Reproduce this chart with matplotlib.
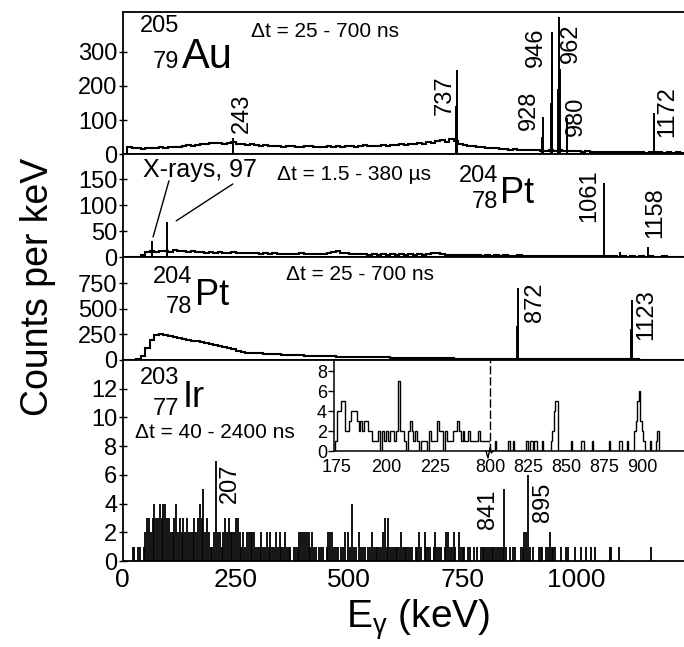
import numpy as np
import matplotlib
matplotlib.use("Agg")
import matplotlib.pyplot as plt

plt.rcParams['font.family'] = ['Liberation Sans', 'DejaVu Sans']
plt.rcParams['mathtext.fontset'] = 'custom'
plt.rcParams['mathtext.rm'] = 'Liberation Sans'
plt.rcParams['mathtext.it'] = 'Liberation Sans:italic'

# ---------------- data ----------------
BIN = 10  # keV per background bin, panels 1-3

# 205Au, dt = 25-700 ns : background, 10 keV bins from 0 keV
au_bg = [0, 20, 18, 17, 16, 19, 18, 17, 20, 19,
         21, 22, 20, 24, 26, 25, 28, 31, 30, 33,
         32, 34, 31, 33, 36, 30, 31, 28, 29, 27,
         25, 26, 24, 23, 25, 22, 23, 24, 22, 21,
         23, 24, 21, 22, 20, 23, 22, 24, 21, 23,
         25, 22, 24, 26, 23, 25, 24, 27, 25, 26,
         28, 31, 27, 30, 29, 33, 31, 35, 33, 38,
         41, 36, 44, 40, 30, 27, 25, 23, 22, 20,
         19, 18, 17, 16, 15, 14, 15, 13, 14, 12,
         13, 12, 11, 10, 12, 11, 12, 10, 9, 10,
         9, 8, 9, 8, 7, 8, 7, 8, 7, 6,
         7, 6, 7, 6, 6, 5, 6, 7, 6, 5,
         6, 5, 6, 5, 5]
au_peak_e = [243, 735, 737, 926, 928, 944, 946, 948, 960, 962, 964, 980, 1172]
au_peak_h = [48, 140, 245, 50, 110, 150, 358, 260, 190, 402, 250, 106, 122]
au_labels = ['243', '737', '928', '946', '962', '980', '1172']

# 204Pt, dt = 1.5-380 us
ptus_bg = [0, 0, 0, 0, 4, 10, 12, 11, 13, 12,
           11, 14, 12, 13, 11, 12, 10, 11, 9, 10,
           9, 10, 8, 9, 10, 8, 9, 8, 9, 8,
           7, 8, 7, 8, 7, 6, 7, 6, 7, 8,
           7, 6, 7, 6, 7, 8, 10, 12, 9, 8,
           7, 6, 7, 6, 5, 6, 5, 6, 5, 6,
           5, 6, 5, 6, 5, 6, 5, 6, 8, 9,
           6, 5, 4, 5, 4, 5, 4, 5, 4, 3,
           4, 3, 4, 3, 4, 3, 3, 4, 3, 3,
           2, 3, 2, 3, 2, 3, 2, 2, 3, 2,
           2, 2, 3, 2, 2, 2, 3, 2, 2, 1,
           2, 1, 2, 1, 2, 1, 2, 1, 1, 2,
           1, 1, 1, 1, 1]
ptus_peak_e = [65, 97, 1061, 1097, 1158]
ptus_peak_h = [32, 67, 142, 10, 20]
ptus_labels = ['1061', '1158']

# 204Pt, dt = 25-700 ns
ptns_bg = [0, 0, 0, 5, 40, 120, 200, 245, 250, 240,
           232, 222, 215, 207, 200, 190, 182, 175, 165, 155,
           145, 138, 128, 118, 105, 90, 76, 71, 69, 66,
           64, 61, 58, 56, 54, 52, 50, 48, 46, 44,
           42, 40, 39, 38, 37, 36, 35, 34, 33, 32,
           30, 30, 29, 28, 27, 26, 26, 25, 27, 24,
           23, 22, 22, 21, 20, 19, 19, 18, 17, 17,
           16, 15, 15, 14, 14, 13, 13, 12, 12, 11,
           11, 10, 10, 10, 9, 9, 9, 10, 12, 9,
           8, 8, 8, 7, 7, 7, 7, 6, 6, 6,
           6, 6, 5, 5, 5, 5, 5, 5, 5, 5,
           5, 5, 8, 5, 4, 4, 4, 4, 4, 4,
           4, 4, 3, 3, 3]
ptns_peak_e = [870, 872, 1121, 1123]
ptns_peak_h = [330, 700, 300, 585]
ptns_labels = ['872', '1123']

# 203Ir, dt = 40-2400 ns : counts in 4 keV bins from 0 keV, one digit per bin
IR_BIN = 4
ir_digits = ("00000" "11011012" "3323" "43343443"       # 0-100
             "3223423232322232343523211"                 # 100-200
             "2722123232223321212222211"                 # 200-300
             "1211212112121121110111222"                 # 300-400
             "2221211011101222111011202"                 # 400-500
             "1411021110112111112313111"                 # 500-600
             "1112111111011210211101211"                 # 600-700
             "1012211210211101101010111"                 # 700-800
             "1111111111510101100112261"                 # 800-900
             "0100111011211100100110001"                 # 900-1000
             "0010010010100000001100010"                 # 1000-1100
             "0000000000000000100000000000000000000")    # 1100-1248
ir_labels = ['207', '841', '895']

# inset: 1 keV bins, 174-252 keV
inset_lo_start = 174
inset_lo = [1, 4, 4, 5, 5, 2, 2, 3, 4, 4, 4, 3, 2, 3, 2, 3, 3, 2, 2, 1,
            1, 1, 2, 0, 2, 1, 2, 1, 2, 2, 1, 2, 7, 2, 2, 1, 0, 2, 3, 2,
            1, 2, 1, 0, 1, 1, 1, 0, 2, 1, 1, 1, 3, 2, 2, 0, 2, 1, 1, 1,
            2, 2, 3, 2, 1, 2, 1, 1, 2, 1, 1, 1, 1, 2, 1, 1, 1, 1, 1]
# inset: 1 keV bins, 800-931 keV (non-zero channels)
inset_hi_e = [803, 812, 815, 824, 826, 827, 829, 830, 834, 840, 841, 842, 843, 844,
              853, 860, 861, 867, 878, 885, 886, 890, 895, 896, 897, 898, 899,
              900, 901, 905, 909, 910]
inset_hi_c = [1, 1, 1, 1, 1, 1, 1, 1, 1, 1, 2, 4, 5, 5,
              1, 1, 1, 1, 1, 1, 1, 1, 2, 3, 5, 6, 3,
              2, 1, 1, 1, 2]

x_ticks = [0, 250, 500, 750, 1000]

# ---------------- figure ----------------
W, H = 684.0, 647.0


def fig_box(left, top, right, bottom):
    return [left / W, 1 - bottom / H, (right - left) / W, (bottom - top) / H]


X_LEFT, X_RIGHT = 122.7, 690.0
XMAX = (X_RIGHT - X_LEFT) / 0.4533

fig = plt.figure(figsize=(W / 100, H / 100), dpi=100)
ax1 = fig.add_axes(fig_box(X_LEFT, 12, X_RIGHT, 154.3))
ax2 = fig.add_axes(fig_box(X_LEFT, 154.3, X_RIGHT, 257.3))
ax3 = fig.add_axes(fig_box(X_LEFT, 257.3, X_RIGHT, 360))
ax4 = fig.add_axes(fig_box(X_LEFT, 360, X_RIGHT, 561))

ylims = [(0, 416), (0, 198), (0, 1004), (0, 14.0)]
yticks = [[0, 100, 200, 300], [0, 50, 100, 150], [0, 250, 500, 750], list(range(0, 13, 2))]

for ax, yl, yt in zip([ax1, ax2, ax3, ax4], ylims, yticks):
    ax.set_xlim(0, XMAX)
    ax.set_ylim(*yl)
    ax.set_xticks(x_ticks)
    ax.set_yticks(yt)
    ax.tick_params(axis='x', length=0, labelsize=19, pad=5)
    ax.tick_params(axis='y', direction='inout', length=6, width=1, labelsize=17, pad=1)
    for s in ax.spines.values():
        s.set_linewidth(1.3)
    if ax is not ax4:
        ax.tick_params(labelbottom=False)


def spectrum(ax, bg, pe, ph):
    edges = np.arange(len(bg) + 1) * BIN
    ax.stairs(bg, edges, color='black', linewidth=1.5)
    ax.vlines(pe, 0, ph, color='black', linewidth=1.4)


spectrum(ax1, au_bg, au_peak_e, au_peak_h)
spectrum(ax2, ptus_bg, ptus_peak_e, ptus_peak_h)
spectrum(ax3, ptns_bg, ptns_peak_e, ptns_peak_h)

ir_counts = np.array([int(c) for c in ir_digits])
ir_centers = np.arange(len(ir_counts)) * IR_BIN + IR_BIN / 2
nz = ir_counts > 0
ax4.vlines(ir_centers[nz], 0, ir_counts[nz], color='black', linewidth=1.3)

# peak labels
lab_kw = dict(rotation=90, ha='center', va='center', fontsize=17)
for txt, xy in zip(au_labels, [(264, 121), (711, 174), (897, 130), (912, 312),
                               (989, 326), (1000, 112), (1201, 124)]):
    ax1.text(*xy, txt, **lab_kw)
for txt, xy in zip(ptus_labels, [(1030, 118), (1174, 85)]):
    ax2.text(*xy, txt, **lab_kw)
for txt, xy in zip(ptns_labels, [(909, 565), (1155, 448)]):
    ax3.text(*xy, txt, **lab_kw)
for txt, xy in zip(ir_labels, [(236, 5.4), (806, 3.6), (927, 4.1)]):
    ax4.text(*xy, txt, **lab_kw)


def nuclide(ax, x, y_mass, y_z, x_el, y_el, mass, z, el, el_size):
    ax.text(x, y_mass, mass, ha='right', va='baseline', fontsize=17)
    ax.text(x, y_z, z, ha='right', va='baseline', fontsize=17)
    ax.text(x_el, y_el, el, ha='left', va='baseline', fontsize=el_size)


nuclide(ax1, 124, 357, 252, 130, 252, '205', '79', 'Au', 30)
nuclide(ax2, 828, 145, 95, 832, 104, '204', '78', 'Pt', 26)
nuclide(ax3, 153, 750, 458, 159.5, 535, '204', '78', 'Pt', 26)
nuclide(ax4, 124, 12.3, 10.2, 133, 10.75, '203', '77', 'Ir', 26)

dt_kw = dict(ha='left', va='baseline', fontsize=15)
ax1.text(282, 343, 'Δt = 25 - 700 ns', **dt_kw)
ax2.text(340, 148, 'Δt = 1.5 - 380 µs', **dt_kw)
ax3.text(360, 779, 'Δt = 25 - 700 ns', **dt_kw)
ax4.text(27, 8.6, 'Δt = 40 - 2400 ns', **dt_kw)

ax2.text(45, 154, 'X-rays, 97', ha='left', va='baseline', fontsize=18)
ax2.annotate('', xy=(67, 39), xytext=(102, 147),
             arrowprops=dict(arrowstyle='-', color='black', lw=1.0, shrinkA=0, shrinkB=0))
ax2.annotate('', xy=(118, 70), xytext=(243, 141),
             arrowprops=dict(arrowstyle='-', color='black', lw=1.0, shrinkA=0, shrinkB=0))

# inset with broken x axis
axa = fig.add_axes(fig_box(334, 360, 490, 451), facecolor='none')
axb = fig.add_axes(fig_box(490, 360, 690, 451), facecolor='none')
lo_edges = np.arange(len(inset_lo) + 1) + inset_lo_start
axa.stairs(inset_lo, lo_edges, color='black', linewidth=1.0)
hi_edges = np.arange(800, 932)
hi_counts = np.zeros(len(hi_edges) - 1)
hi_counts[np.array(inset_hi_e) - 800] = inset_hi_c
axb.stairs(hi_counts, hi_edges, color='black', linewidth=1.0)

axa.set_xlim(173.5, 253)
axb.set_xlim(800, 931.6)
for ax in (axa, axb):
    ax.set_ylim(0, 9.1)
    ax.spines['top'].set_visible(False)
    ax.tick_params(axis='x', length=0, labelsize=13, pad=6)
    for s in ax.spines.values():
        s.set_linewidth(1.1)
axa.set_xticks([175, 200, 225])
axb.set_xticks([800, 825, 850, 875, 900])
axa.set_yticks([0, 2, 4, 6, 8])
axa.tick_params(axis='y', direction='out', length=4, width=1, labelsize=13, pad=1)
axa.spines['right'].set_linestyle((0, (5, 3)))
axa.spines['right'].set_linewidth(1.0)
axb.spines['left'].set_visible(False)
axb.spines['right'].set_visible(False)
axb.set_yticks([])
# small break mark on the bottom axis
zx = np.array([-4, -2, 0, 1.5, 3]) / 200.0
zy = np.array([0, -7, 3, -2, 0]) / 91.0
axb.plot(zx, zy, color='black', lw=1.0, transform=axb.transAxes, clip_on=False)

fig.text(38 / W, 1 - 287 / H, 'Counts per keV', rotation=90, ha='center', va='center', fontsize=27)
fig.text(346 / W, 1 - 628 / H, r'E$_{\mathrm{\gamma}}$ (keV)', ha='left', va='baseline', fontsize=28)

fig.savefig('out.png', dpi=100)
